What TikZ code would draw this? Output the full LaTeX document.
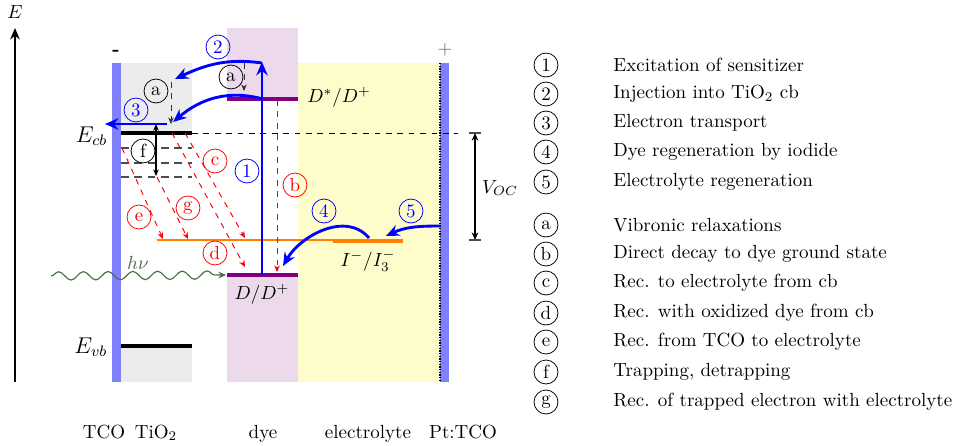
\documentclass[tikz,border=0pt]{standalone}
\usetikzlibrary{arrows.meta,decorations.pathmorphing}
\definecolor{hnucol}{RGB}{70,110,70}
\begin{document}
\begin{tikzpicture}[x=0.526pt,y=0.526pt,
  circ/.style={circle,draw,minimum size=12.6pt,inner sep=0pt},
  bcirc/.style={circ,draw=blue,text=blue},
  rcirc/.style={circ,draw=red,text=red},
  barrow/.style={draw=blue,line width=1.5pt,-{Stealth[length=7pt,width=6pt]}},
  recarrow/.style={draw=red,dashed,line width=0.5pt,-{Stealth[length=3.5pt,width=3pt]}},
  vib/.style={draw=black!80,dashed,line width=0.5pt,-{Stealth[length=3.5pt,width=3pt]}},
  level/.style={line width=1.8pt},
  trap/.style={draw=black!70,line width=0.8pt,dash pattern=on 4pt off 3pt},
  legtext/.style={anchor=west,inner sep=0pt}]
\useasboundingbox (0,0) rectangle (958,-445);

% blocks
\fill[blue!50] (112,-63) rectangle (121,-382);
\fill[gray!15] (121,-63) rectangle (192,-133);
\fill[gray!15] (121,-346) rectangle (192,-382);
\fill[violet!15] (227,-28) rectangle (298,-99);
\fill[violet!15] (227,-275) rectangle (298,-382);
\fill[yellow!20] (298,-63) rectangle (440,-382);
\fill[blue!50] (440,-63) rectangle (449,-382);
\coordinate (ptT) at (440,-63);
\coordinate (ptB) at (440,-382);
\draw[line width=1pt,dash pattern=on 0.7pt off 0.7pt] (ptT) -- (ptB);

% energy axis
\coordinate (Ebot) at (15,-382);
\coordinate (Etop) at (15,-28);
\draw[line width=0.9pt,-{Stealth[length=6pt,width=5pt]}] (Ebot) -- (Etop);
\node (Elab) at (15,-12) {$E$};

% signs
\node (minus) at (116,-53) {\textbf{-}};
\node[text=black!60] (plus) at (445,-50) {$+$};

% conduction band, traps, valence band
\coordinate (cbL) at (121,-133);
\coordinate (cbR) at (192,-133);
\coordinate (cbE) at (458,-133);
\draw[dashed,line width=0.5pt] (cbR) -- (cbE);
\draw[level] (cbL) -- (cbR);
\node[anchor=east,font=\large] (Ecb) at (114,-136) {$E_{cb}$};
\foreach \yy in {148,163,177} \draw[trap] (121,-\yy) -- (192,-\yy);
\coordinate (vbL) at (121,-346);
\coordinate (vbR) at (192,-346);
\draw[level] (vbL) -- (vbR);
\node[anchor=east,font=\large] (Evb) at (114,-347) {$E_{vb}$};

% dye levels
\coordinate (DsL) at (227,-99);
\coordinate (DsR) at (298,-99);
\draw[level,violet] (DsL) -- (DsR);
\node (Dslab) at (339,-97) {$D^*/D^+$};
\coordinate (DL) at (227,-275);
\coordinate (DR) at (298,-275);
\draw[level,violet] (DL) -- (DR);
\node (Dlab) at (262,-294) {$D/D^+$};

% electrolyte level
\coordinate (oL) at (157,-240);
\coordinate (IL) at (333,-241);
\coordinate (IR) at (403,-241);
\draw[orange,line width=0.6pt] (oL) -- (333,-240);
\draw[orange,line width=2.2pt] (IL) -- (IR);
\node (Ilab) at (368,-261) {$I^-/I_3^-$};

% hnu
\coordinate (hs) at (51,-276);
\coordinate (he) at (226,-275);
\draw[hnucol,line width=0.6pt,decorate,decoration={snake,amplitude=2.2pt,segment length=13pt,post length=4pt},-{Stealth[length=4pt,width=3.5pt]}] (hs) -- (he);
\node[text=hnucol] (hnu) at (138,-263) {$h\nu$};

% process 1
\coordinate (a1s) at (262,-275);
\coordinate (a1e) at (262,-62);
\draw[barrow] (a1s) -- (a1e);
\node[bcirc] (c1) at (247,-171) {1};
% process 2
\coordinate (a2e) at (175,-79);
\draw[barrow] (262,-63) to[out=172,in=25] (a2e);
\node[bcirc] (c2) at (218,-47) {2};
\coordinate (inj2s) at (263,-99);
\coordinate (inj2e) at (173,-122);
\draw[barrow] (inj2s) to[out=165,in=40] (inj2e);
% process 3
\coordinate (a3s) at (167,-124);
\coordinate (a3e) at (105,-124);
\draw[barrow] (a3s) -- (a3e);
\node[bcirc] (c3) at (136,-110) {3};
% process 4
\coordinate (a4s) at (369,-238);
\coordinate (a4e) at (283,-266);
\draw[barrow] (a4s) to[out=130,in=60] (a4e);
\node[bcirc] (c4) at (324,-211) {4};
% process 5
\coordinate (a5s) at (440,-226);
\coordinate (a5e) at (386,-236);
\draw[barrow] (a5s) to[out=180,in=25] (a5e);
\node[bcirc] (c5) at (411,-211) {5};

% vibronic relaxations
\coordinate (vas) at (244,-63);
\coordinate (vae) at (244,-91);
\draw[vib] (vas) -- (vae);
\node[circ] (ca1) at (231,-77) {a};
\coordinate (vbs) at (171,-82);
\coordinate (vbe) at (171,-124);
\draw[vib] (vbs) -- (vbe);
\node[circ] (ca2) at (156,-91) {a};

% trapping
\coordinate (fs) at (156,-124);
\coordinate (fe) at (156,-176);
\draw[line width=0.6pt,{Stealth[length=3.5pt,width=3pt]}-{Stealth[length=3.5pt,width=3pt]}] (fs) -- (fe);
\node[circ,fill=white] (cf) at (143,-151) {f};

% recombination
\coordinate (bs) at (277,-100);
\coordinate (be) at (277,-272);
\draw[recarrow] (bs) -- (be);
\node[rcirc] (cb) at (295,-185) {b};
\coordinate (cs) at (185,-133);
\coordinate (ce) at (245,-238);
\draw[recarrow] (cs) -- (ce);
\node[rcirc] (cc) at (215,-161) {c};
\coordinate (ds) at (172,-133);
\coordinate (de) at (245,-267);
\draw[recarrow] (ds) -- (de);
\node[rcirc] (cd) at (215,-253) {d};
\coordinate (es) at (122,-148);
\coordinate (ee) at (163,-239);
\draw[recarrow] (es) -- (ee);
\node[rcirc] (ce2) at (139,-217) {e};
\coordinate (gs) at (157,-177);
\coordinate (ge) at (188,-239);
\draw[recarrow] (gs) -- (ge);
\node[rcirc] (cg) at (188,-208) {g};

% V_OC
\coordinate (vt) at (475,-133);
\coordinate (vb) at (475,-240);
\draw[line width=0.6pt,{Stealth[length=4pt,width=3.5pt]}-{Stealth[length=4pt,width=3.5pt]}] (vt) -- (vb);
\draw[black!70,line width=0.8pt] (469,-133) -- (481,-133);
\draw[black!70,line width=0.8pt] (469,-240) -- (481,-240);
\node (voc) at (500,-188) {$V_{OC}$};

% bottom labels
\node[anchor=base] (bTCO) at (104,-438) {TCO};
\node[anchor=base] (bTiO) at (156,-438) {TiO$_2$};
\node[anchor=base] (bdye) at (263,-438) {dye};
\node[anchor=base] (belec) at (368,-438) {electrolyte};
\node[anchor=base] (bPt) at (463,-438) {Pt:TCO};

% legend
\node[circ] (l1) at (546,-65) {1};
\node[legtext] (t1) at (613,-65) {Excitation of sensitizer};
\node[circ] (l2) at (546,-94) {2};
\node[legtext] (t2) at (613,-94) {Injection into TiO$_2$ cb};
\node[circ] (l3) at (546,-123) {3};
\node[legtext] (t3) at (613,-123) {Electron transport};
\node[circ] (l4) at (546,-152) {4};
\node[legtext] (t4) at (613,-152) {Dye regeneration by iodide};
\node[circ] (l5) at (546,-182) {5};
\node[legtext] (t5) at (613,-182) {Electrolyte regeneration};
\node[circ] (la) at (546,-225) {a};
\node[legtext] (ta) at (613,-225) {Vibronic relaxations};
\node[circ] (lb) at (546,-254) {b};
\node[legtext] (tb) at (613,-254) {Direct decay to dye ground state};
\node[circ] (lc) at (546,-283) {c};
\node[legtext] (tc) at (613,-283) {Rec. to electrolyte from cb};
\node[circ] (ld) at (546,-313) {d};
\node[legtext] (td) at (613,-313) {Rec. with oxidized dye from cb};
\node[circ] (le) at (546,-342) {e};
\node[legtext] (te) at (613,-342) {Rec. from TCO to electrolyte};
\node[circ] (lf) at (546,-372) {f};
\node[legtext] (tf) at (613,-372) {Trapping, detrapping};
\node[circ] (lg) at (546,-402) {g};
\node[legtext] (tg) at (613,-402) {Rec. of trapped electron with electrolyte};
\end{tikzpicture}
\end{document}
